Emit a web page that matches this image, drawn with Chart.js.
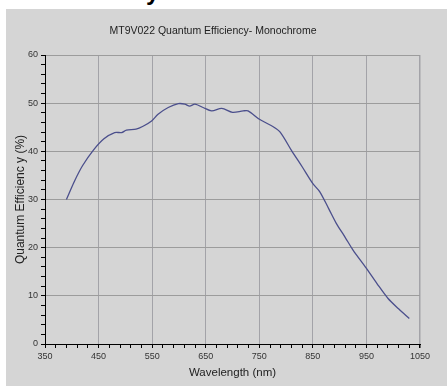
<!DOCTYPE html>
<html>
<head>
<meta charset="utf-8">
<script src="https://cdn.jsdelivr.net/npm/chart.js@4/dist/chart.umd.min.js"></script>
<style>
  html, body { margin: 0; padding: 0; background: #fff; width: 447px; height: 386px; overflow: hidden; }
  #clip { position: absolute; left: 0; top: 0; width: 447px; height: 9px; overflow: hidden; }
  #clip span { position: absolute; left: 146px; top: -22px; font: bold 24px "Liberation Sans", Arial, sans-serif; color: #000; }
  #panel { position: absolute; left: 6px; top: 9px; width: 441px; height: 377px; background: #d5d5d5; }
</style>
</head>
<body>
<div id="clip"><span>y</span></div>
<div id="panel"><canvas id="qe" width="441" height="377"></canvas></div>
<script>
// wavelength in nm
var wavelengths = [390, 405, 420, 440, 460, 480, 493, 502, 520, 533, 549, 561, 580, 599, 611, 620, 630, 645, 661, 680, 700, 720, 729, 751, 776, 789, 810, 830, 850, 863, 880, 894, 910, 925, 950, 970, 990, 1010, 1030];
var qeValues = [30, 33.8, 37, 40.2, 42.6, 43.9, 43.9, 44.4, 44.6, 45.2, 46.3, 47.7, 49.1, 49.9, 49.8, 49.4, 49.8, 49.1, 48.4, 48.9, 48.1, 48.4, 48.4, 46.6, 45.1, 44.0, 40.2, 36.8, 33.3, 31.6, 28.0, 25.0, 22.2, 19.5, 15.7, 12.5, 9.5, 7.3, 5.3];
var xTickLabels = [350, 450, 550, 650, 750, 850, 950, 1050];
var yTickLabels = [0, 10, 20, 30, 40, 50, 60];

var titleText = "MT9V022 Quantum Efficiency- Monochrome";
var fontFamily = '"Liberation Sans", Arial, sans-serif';

var points = [];
for (var i = 0; i < wavelengths.length; i++) {
    points.push({ x: wavelengths[i], y: qeValues[i] });
}

new Chart(document.getElementById("qe"), {
    type: 'line',
    data: {
        datasets: [{
            data: points,
            borderColor: '#4b4f8c',
            borderWidth: 1.3,
            pointRadius: 0,
            tension: 0.3,
            fill: false
        }]
    },
    options: {
        responsive: false,
        animation: false,
        layout: { padding: { left: 0, right: 27, top: 0, bottom: 0 } },
        plugins: {
            legend: { display: false },
            tooltip: { enabled: false },
            title: {
                display: true,
                text: titleText,
                color: '#222',
                font: { family: fontFamily, size: 10.5, weight: 'normal' },
                padding: { top: 16, bottom: 17.4 }
            }
        },
        scales: {
            x: {
                type: 'linear',
                min: 350,
                max: 1050,
                afterFit: function(scale) { scale.height = 42; },
                ticks: {
                    stepSize: 20,
                    autoSkip: false,
                    maxRotation: 0,
                    color: '#333',
                    padding: 3,
                    font: { family: fontFamily, size: 9 },
                    callback: function(v) { return xTickLabels.indexOf(v) >= 0 ? String(v) : ''; }
                },
                grid: {
                    color: function(c) { return c.tick && xTickLabels.indexOf(c.tick.value) >= 0 ? '#a3a3a8' : 'rgba(0,0,0,0)'; },
                    lineWidth: function(c) { return c.tick && c.tick.value === 1050 ? 1.5 : 1; },
                    tickColor: '#000',
                    tickLength: 4,
                    drawTicks: true
                },
                border: { color: '#000', width: 1 },
                title: {
                    display: true,
                    text: 'Wavelength (nm)',
                    color: '#222',
                    font: { family: fontFamily, size: 11.5 },
                    padding: { top: 2, bottom: 6 }
                }
            },
            y: {
                min: 0,
                max: 60,
                afterFit: function(scale) { scale.width = 39; },
                ticks: {
                    stepSize: 2,
                    autoSkip: false,
                    color: '#333',
                    padding: 3,
                    font: { family: fontFamily, size: 9 },
                    callback: function(v) { return yTickLabels.indexOf(v) >= 0 ? String(v) : ''; }
                },
                grid: {
                    color: function(c) { return c.tick && yTickLabels.indexOf(c.tick.value) >= 0 ? '#9c9c9c' : 'rgba(0,0,0,0)'; },
                    tickColor: '#000',
                    tickLength: 4
                },
                border: { color: '#000', width: 1 },
                title: {
                    display: true,
                    text: 'Quantum Efficienc y (%)',
                    color: '#222',
                    font: { family: fontFamily, size: 12 },
                    padding: { top: 7, bottom: 2 }
                }
            }
        }
    }
});
</script>
</body>
</html>
